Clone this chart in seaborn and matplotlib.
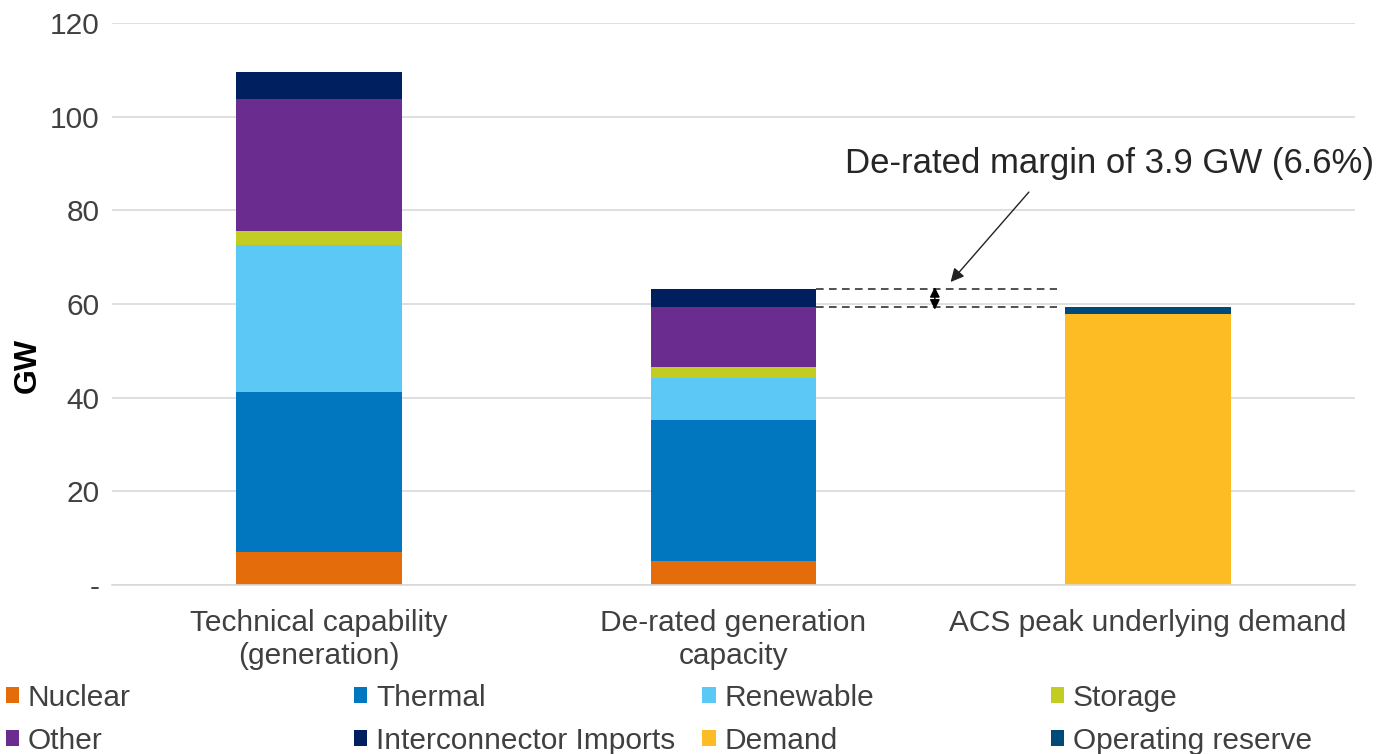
import numpy as np
import pandas as pd
import matplotlib
matplotlib.use('Agg')
import matplotlib.pyplot as plt
import seaborn as sns
from matplotlib.patches import Patch

categories = ['Technical capability\n(generation)', 'De-rated generation\ncapacity', 'ACS peak underlying demand']
nuclear = [7.0, 5.1, 0.0]
thermal = [34.2, 30.1, 0.0]
renewable = [31.3, 9.1, 0.0]
storage = [3.1, 2.2, 0.0]
other = [28.1, 12.9, 0.0]
interconnector = [5.9, 3.8, 0.0]
demand = [0.0, 0.0, 57.9]
operating_reserve = [0.0, 0.0, 1.4]

series_names = ['Nuclear', 'Thermal', 'Renewable', 'Storage', 'Other',
                'Interconnector Imports', 'Demand', 'Operating reserve']
colors = ['#E46C0A', '#0077BF', '#5BC8F5', '#C1CD23', '#6A2C8F',
          '#001F5F', '#FDBB24', '#004A7A']

y_ticks = [0, 20, 40, 60, 80, 100, 120]
y_tick_labels = ['-', '20', '40', '60', '80', '100', '120']
margin_label = 'De-rated margin of 3.9 GW (6.6%)'

df = pd.DataFrame({'category': categories,
                   'Nuclear': nuclear, 'Thermal': thermal, 'Renewable': renewable,
                   'Storage': storage, 'Other': other,
                   'Interconnector Imports': interconnector,
                   'Demand': demand, 'Operating reserve': operating_reserve})
tops = df[series_names].cumsum(axis=1)
totals = tops[series_names[-1]]

sns.set_theme(style='white')
plt.rcParams['font.family'] = ['Liberation Sans', 'DejaVu Sans']
text_col = '#404040'

fig = plt.figure(figsize=(13.77, 7.54), dpi=100)
ax = fig.add_axes([0.0813, 0.2241, 0.9027, 0.7454])

# stacked bars: draw cumulative tops from the highest layer down
for name, col in reversed(list(zip(series_names, colors))):
    keep = df[name] > 0
    layer = pd.DataFrame({'category': df.loc[keep, 'category'], 'top': tops.loc[keep, name]})
    sns.barplot(data=layer, x='category', y='top', order=categories, color=col,
                saturation=1, width=0.4, linewidth=0, errorbar=None, ax=ax)

ax.set_xlim(-0.5, 2.5)
ax.set_ylim(0, 120)
ax.set_yticks(y_ticks)
ax.set_yticklabels(y_tick_labels)
ax.yaxis.grid(True, color='#D9D9D9', lw=1.2)
ax.set_axisbelow(True)
for s in ['left', 'top', 'right']:
    ax.spines[s].set_visible(False)
ax.spines['bottom'].set_color('#D9D9D9')
ax.spines['bottom'].set_linewidth(1.2)
ax.tick_params(axis='both', length=0, labelsize=21.5, colors=text_col)
ax.tick_params(axis='x', pad=17.5)
ax.tick_params(axis='y', pad=9)
ax.set_xlabel('')
ax.set_ylabel('GW', fontsize=23, fontweight='bold', color='black')
ax.yaxis.set_label_coords(-0.0555, 0.39)

# margin markers
gen_total = totals.iloc[1]
dem_total = totals.iloc[2]
ax.hlines([gen_total, dem_total], 1.2, 1.78, colors='#222222', lw=1.1, linestyles=(0, (5, 3.5)))
ax.annotate('', xy=(1.486, dem_total - 0.5), xytext=(1.486, gen_total + 0.4),
            arrowprops=dict(arrowstyle='<|-|>', color='black', lw=1, mutation_scale=15,
                            shrinkA=0, shrinkB=0))
ax.text(1.27, 90.1, margin_label, fontsize=25, va='center', ha='left', color='#262626')
ax.annotate('', xy=(1.524, 64.7), xytext=(1.713, 83.9),
            arrowprops=dict(arrowstyle='-|>', color='#222222', lw=1, mutation_scale=20,
                            shrinkA=0, shrinkB=0))

# legend: four equally spaced columns, two rows each
col_x = [0.004, 0.257, 0.510, 0.763]
for c in range(4):
    idx = [c, c + 4]
    handles = [Patch(facecolor=colors[i], edgecolor='none') for i in idx]
    fig.legend(handles, [series_names[i] for i in idx], loc='upper left',
               bbox_to_anchor=(col_x[c], 0.093), frameon=False, fontsize=21.5,
               handlelength=0.45, handleheight=0.45, handletextpad=0.3,
               labelspacing=0.5, borderpad=0, borderaxespad=0, labelcolor=text_col)

fig.savefig('out.png', dpi=100)
